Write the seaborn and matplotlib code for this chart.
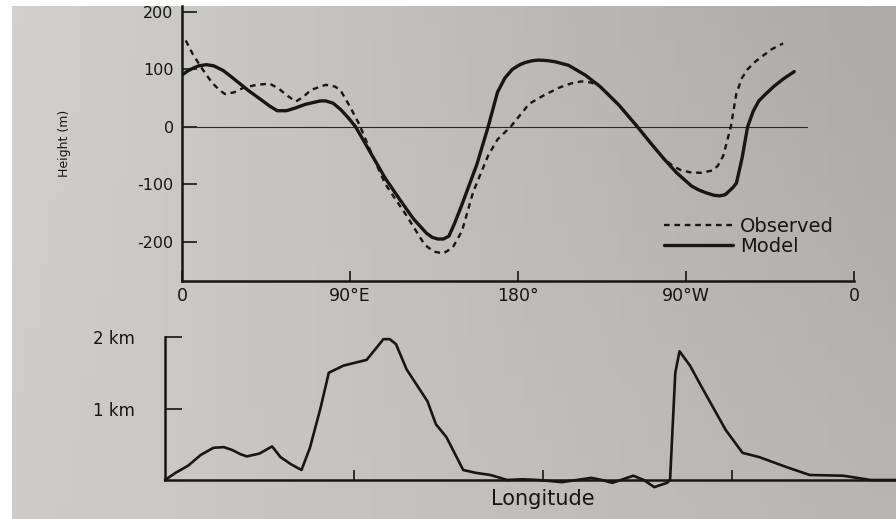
import numpy as np
import seaborn as sns
import matplotlib.pyplot as plt

# ---- data ----
# upper panel: height deviation along the latitude circle (m)
obs_lon = [2, 6, 11, 16, 20, 23, 28, 33, 40, 47, 52, 56, 61, 65, 69, 77, 82, 85, 90, 95, 102, 109,
           120, 130, 135, 140, 145, 150, 156, 164, 169, 176, 186, 194, 202, 208, 214, 219, 224,
           234, 244, 251, 258, 263, 267, 272, 278, 284, 287, 290, 292, 294, 297, 300, 303, 307,
           311, 316, 322]
obs_hgt = [150, 125, 100, 77, 64, 57, 60, 68, 73, 75, 66, 55, 44, 52, 64, 73, 70, 63, 35, 4, -50, -100,
           -153, -205, -217, -220, -210, -181, -113, -50, -22, 0, 40, 55, 68, 75, 79, 77, 70,
           38, 0, -28, -55, -68, -75, -79, -80, -76, -68, -50, -25, 0, 58, 85, 100, 113,
           123, 135, 145]

mod_lon = [0, 3, 6, 9, 13, 17, 22, 26, 31, 36, 42, 47, 51, 56, 61, 66, 70, 74, 77, 81, 85, 89, 93,
           101, 109, 117, 124, 131, 134, 137, 140, 143, 146, 150, 154, 158, 164, 169, 173, 177,
           181, 184, 188, 191, 196, 200, 207, 216, 224, 234, 244, 251, 258, 265, 273, 277, 281,
           285, 288, 291, 293, 295, 297, 300, 303, 306, 309, 313, 317, 322, 328]
mod_hgt = [90, 97, 102, 106, 108, 106, 98, 88, 75, 62, 48, 36, 28, 28, 33, 39, 42, 45, 45, 41, 30, 16, 0,
           -45, -90, -128, -160, -185, -192, -195, -195, -190, -168, -135, -100, -65, 0, 60, 85, 100,
           108, 112, 115, 116, 115, 113, 107, 90, 70, 38, 0, -28, -55, -80, -103, -110, -115,
           -119, -120, -118, -112, -106, -98, -55, 0, 27, 45, 58, 70, 83, 96]

# lower panel: terrain height (km)
topo_lon = [0, 5, 11, 17, 23, 28, 32, 36, 39, 45, 51, 55, 60, 65, 69, 74, 78, 85, 96, 101,
            104, 107, 110, 115, 125, 129, 134, 142, 148, 155, 163, 170, 178, 189, 196, 203, 208,
            213, 223, 228, 233, 239, 240.5, 241.5, 243, 245, 250, 255, 267, 275, 283, 296,
            307, 323, 336, 352]
topo_hgt = [0, 0.1, 0.2, 0.35, 0.45, 0.46, 0.42, 0.36, 0.33, 0.37, 0.47, 0.32, 0.22, 0.14, 0.45, 1.0,
            1.5, 1.6, 1.68, 1.86, 1.97, 1.97, 1.9, 1.55, 1.1, 0.78, 0.6, 0.14, 0.1, 0.07, 0.0,
            0.01, 0.0, -0.03, 0.0, 0.03, 0.0, -0.04, 0.06, 0.0, -0.1, -0.04, 0.0, 0.6, 1.5, 1.8,
            1.6, 1.33, 0.7, 0.38, 0.32, 0.18, 0.07, 0.06, 0.0, 0.0]

x_ticks = [0, 90, 180, 270, 360]
x_labels = ["0", "90°E", "180°", "90°W", "0"]
y_ticks = [200, 100, 0, -100, -200]
y_labels = ["200", "100", "0", "-100", "-200"]
km_ticks = [1, 2]
km_labels = ["1 km", "2 km"]

ink = "#161616"

sns.set_style("white")
plt.rcParams["font.family"] = ["DejaVu Sans"]

fig = plt.figure(figsize=(8.96, 5.19), dpi=100)
fig.patch.set_facecolor("white")

# photographed page background (light grey, darker to the right)
bg = fig.add_axes([12 / 896, 0, 1 - 12 / 896, 1 - 6 / 519], zorder=-10)
tl, tr = np.array([210, 208, 205]), np.array([172, 170, 167])
bl, br = np.array([206, 204, 201]), np.array([184, 182, 179])
u = np.linspace(0, 1, 64)[None, :, None]
v = np.linspace(0, 1, 32)[:, None, None]
grad = ((1 - v) * ((1 - u) * bl + u * br) + v * ((1 - u) * tl + u * tr)) / 255
bg.imshow(grad, aspect="auto", extent=[0, 1, 0, 1], origin="lower")
bg.axis("off")

# ---- upper panel ----
ax = fig.add_axes([182 / 896, 1 - 281 / 519, 672 / 896, 275 / 519])
ax.set_facecolor("none")
ax.plot([0, 335], [0, 0], color="#2a2a2a", lw=0.8)
sns.lineplot(x=obs_lon, y=obs_hgt, ax=ax, color=ink, lw=1.7, linestyle=(0, (2.4, 2.0)),
             label="Observed")
sns.lineplot(x=mod_lon, y=mod_hgt, ax=ax, color=ink, lw=2.4, label="Model")
ax.set_xlim(0, 360)
ax.set_ylim(-268, 210)
ax.set_xticks(x_ticks)
ax.set_xticklabels(x_labels, fontsize=12.5, color=ink)
ax.set_yticks(y_ticks)
ax.set_yticklabels(y_labels, fontsize=11.5, color=ink)
ax.tick_params(axis="y", left=True, direction="in", length=11, width=1.2, pad=6, colors=ink)
ax.tick_params(axis="x", bottom=True, direction="in", length=7, width=1.2, pad=4, colors=ink)
ax.set_ylabel("Height (m)", fontsize=9, color=ink)
ax.yaxis.set_label_coords(-0.165, 0.5)
for s in ["top", "right"]:
    ax.spines[s].set_visible(False)
for s in ["left", "bottom"]:
    ax.spines[s].set_color(ink)
    ax.spines[s].set_linewidth(1.8)
ax.legend(loc="lower right", bbox_to_anchor=(0.985, 0.055), frameon=False, fontsize=14,
          handlelength=3.5, handletextpad=0.4, labelspacing=0.05, borderpad=0,
          labelcolor=ink)

# ---- lower panel ----
ax2 = fig.add_axes([165 / 896, 1 - 480 / 519, 756 / 896, 143 / 519])
ax2.set_facecolor("none")
sns.lineplot(x=topo_lon, y=topo_hgt, ax=ax2, color=ink, lw=1.9, clip_on=False)
ax2.set_xlim(0, 360)
ax2.set_ylim(0, 2)
ax2.set_xticks([90, 180, 270])
ax2.set_xticklabels([])
ax2.set_yticks(km_ticks)
ax2.set_yticklabels(km_labels, fontsize=12, color=ink)
ax2.tick_params(axis="y", left=True, direction="in", length=12, width=1.2, pad=22, colors=ink)
ax2.tick_params(axis="x", bottom=True, direction="in", length=7, width=1.2, colors=ink)
ax2.set_xlabel("Longitude", fontsize=15, color=ink, labelpad=3)
for s in ["top", "right"]:
    ax2.spines[s].set_visible(False)
for s in ["left", "bottom"]:
    ax2.spines[s].set_color(ink)
    ax2.spines[s].set_linewidth(1.8)

fig.savefig("out.png", dpi=100)
